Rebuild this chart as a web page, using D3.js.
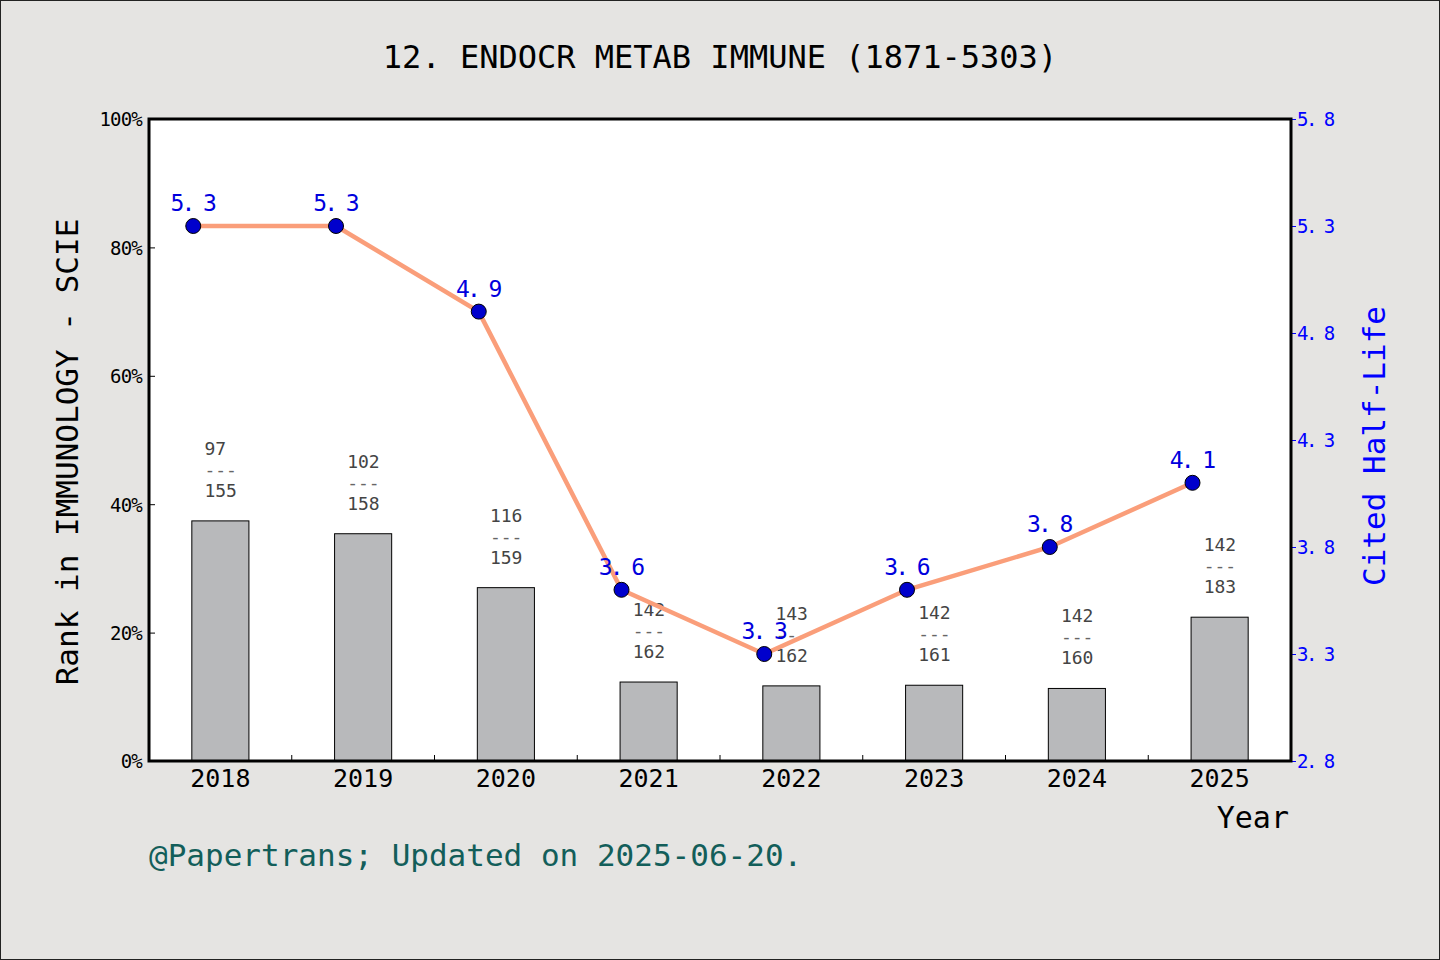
<!DOCTYPE html>
<html>
  <head>
    <meta http-equiv="Content-Type" content="text/html;charset=utf-8"/>
    <script type="text/javascript" src="https://cdn.jsdelivr.net/npm/d3@7"></script>
    <style type="text/css">
      body { margin: 0; background: #e5e4e2; }
      text { font-family: "DejaVu Sans Mono", "Liberation Mono", monospace; }
    </style>
  </head>
  <body>
    <svg id="con"></svg>
    <script type="text/javascript">

    // data
    var years = ["2018", "2019", "2020", "2021", "2022", "2023", "2024", "2025"];
    var rankPct = [37.4, 35.4, 27.0, 12.3, 11.7, 11.8, 11.3, 22.4];
    var ranks = ["97", "102", "116", "142", "143", "142", "142", "142"];
    var totals = ["155", "158", "159", "162", "162", "161", "160", "183"];
    var halfLife = [5.3, 5.3, 4.9, 3.6, 3.3, 3.6, 3.8, 4.1];
    var leftTicks = [0, 20, 40, 60, 80, 100];
    var rightTicks = [2.8, 3.3, 3.8, 4.3, 4.8, 5.3, 5.8];

    var W = 1440, H = 960;
    var L = 149, R = 1291, T = 119, B = 761;

    var svg = d3.select("#con").attr("width", W).attr("height", H);

    svg.append("rect")
        .attr("x", 0.5).attr("y", 0.5)
        .attr("width", W - 1).attr("height", H - 1)
        .style("fill", "#e5e4e2")
        .style("stroke", "#222");

    var x = d3.scaleBand().domain(years).range([L, R]).padding(0);
    var bw = x.bandwidth();
    var yl = d3.scaleLinear().domain([0, 100]).range([B, T]);
    var yr = d3.scaleLinear().domain([2.8, 5.8]).range([B, T]);

    // plot area
    svg.append("rect")
        .attr("x", L).attr("y", T)
        .attr("width", R - L).attr("height", B - T)
        .style("fill", "#fff");

    // bars
    svg.selectAll(".bar").data(years).enter().append("rect")
        .attr("class", "bar")
        .attr("x", function(d) { return x(d) + bw * 0.3; })
        .attr("y", function(d, i) { return yl(rankPct[i]); })
        .attr("width", bw * 0.4)
        .attr("height", function(d, i) { return B - yl(rankPct[i]); })
        .style("fill", "#b8b9bb")
        .style("stroke", "#000")
        .style("stroke-width", 1);

    // rank / total labels
    var lab = svg.selectAll(".rlab").data(years).enter().append("text")
        .attr("class", "rlab")
        .style("font-size", "18px")
        .style("fill", "#444");
    lab.each(function(d, i) {
      var t = d3.select(this);
      var lx = x(d) + bw / 2 - 16;
      var top = yl(rankPct[i]);
      t.append("tspan").attr("x", lx).attr("y", top - 66).text(ranks[i]);
      t.append("tspan").attr("x", lx).attr("y", top - 45).style("fill", "#666").text("---");
      t.append("tspan").attr("x", lx).attr("y", top - 24).text(totals[i]);
    });

    // x ticks (inside, at band borders)
    var borders = years.slice(1).map(function(d) { return x(d); });
    svg.selectAll(".xtick").data(borders).enter().append("line")
        .attr("x1", function(d) { return d; }).attr("x2", function(d) { return d; })
        .attr("y1", B).attr("y2", B - 6)
        .style("stroke", "#000");

    // left axis
    var la = svg.append("g").attr("transform", "translate(" + L + ",0)")
        .call(d3.axisLeft(yl).tickValues(leftTicks).tickSizeInner(-6).tickSizeOuter(0)
              .tickPadding(7).tickFormat(function(d) { return d + "%"; }));
    la.select(".domain").remove();
    la.selectAll("text").style("font-family", "DejaVu Sans Mono").style("font-size", "19px")
        .style("fill", "#000").attr("dy", "0.36em").style("letter-spacing", "-0.8px");

    // right axis
    var ra = svg.append("g").attr("transform", "translate(" + R + ",0)")
        .call(d3.axisRight(yr).tickValues(rightTicks).tickSizeInner(5).tickSizeOuter(0)
              .tickPadding(1).tickFormat(function(d) { return d.toFixed(1).replace(".", ". "); }));
    ra.select(".domain").remove();
    ra.selectAll("line").style("stroke", "#00f");
    ra.selectAll("text").style("font-family", "DejaVu Sans Mono").style("font-size", "19px")
        .style("fill", "#00f").attr("dy", "0.36em").style("letter-spacing", "-2.5px");

    // x labels
    svg.selectAll(".xlab").data(years).enter().append("text")
        .attr("x", function(d) { return x(d) + bw / 2; })
        .attr("y", B + 26)
        .attr("text-anchor", "middle")
        .style("font-size", "25px")
        .style("fill", "#000")
        .text(function(d) { return d; });

    // plot frame
    svg.append("rect")
        .attr("x", L).attr("y", T)
        .attr("width", R - L).attr("height", B - T)
        .style("fill", "none")
        .style("stroke", "#000")
        .style("stroke-width", 3);

    // half-life line
    var px = function(d) { return x(d) + bw * 0.31; };
    var line = d3.line()
        .x(function(d) { return px(d); })
        .y(function(d, i) { return yr(halfLife[i]); });
    svg.append("path")
        .datum(years)
        .attr("d", line)
        .style("fill", "none")
        .style("stroke", "#fa9e7a")
        .style("stroke-width", 4.5);

    svg.selectAll(".dot").data(years).enter().append("circle")
        .attr("cx", px)
        .attr("cy", function(d, i) { return yr(halfLife[i]); })
        .attr("r", 7.5)
        .style("fill", "#0000cc")
        .style("stroke", "#000")
        .style("stroke-width", 1);

    svg.selectAll(".hlab").data(years).enter().append("text")
        .attr("x", function(d) { return px(d) - 1; })
        .attr("y", function(d, i) { return yr(halfLife[i]) - 15; })
        .attr("text-anchor", "middle")
        .style("font-size", "23px")
        .style("letter-spacing", "-3px")
        .style("fill", "#0000dd")
        .text(function(d, i) { return halfLife[i].toFixed(1).replace(".", ". "); });

    // titles
    svg.append("text")
        .attr("x", 720).attr("y", 68)
        .attr("text-anchor", "middle")
        .style("font-size", "32px")
        .style("fill", "#000")
        .text("12. ENDOCR METAB IMMUNE (1871-5303)");

    svg.append("text")
        .attr("transform", "translate(78,452) rotate(-90)")
        .attr("text-anchor", "middle")
        .style("font-size", "31px")
        .style("fill", "#000")
        .text("Rank in IMMUNOLOGY - SCIE");

    svg.append("text")
        .attr("transform", "translate(1385,446) rotate(-90)")
        .attr("text-anchor", "middle")
        .style("font-size", "31px")
        .style("fill", "#0000ff")
        .text("Cited Half-Life");

    svg.append("text")
        .attr("x", 1289).attr("y", 828)
        .attr("text-anchor", "end")
        .style("font-size", "30px")
        .style("fill", "#000")
        .text("Year");

    svg.append("text")
        .attr("x", 149).attr("y", 866)
        .style("font-size", "31px")
        .style("fill", "#135e5a")
        .text("@Papertrans; Updated on 2025-06-20.");

    </script>
  </body>
</html>
